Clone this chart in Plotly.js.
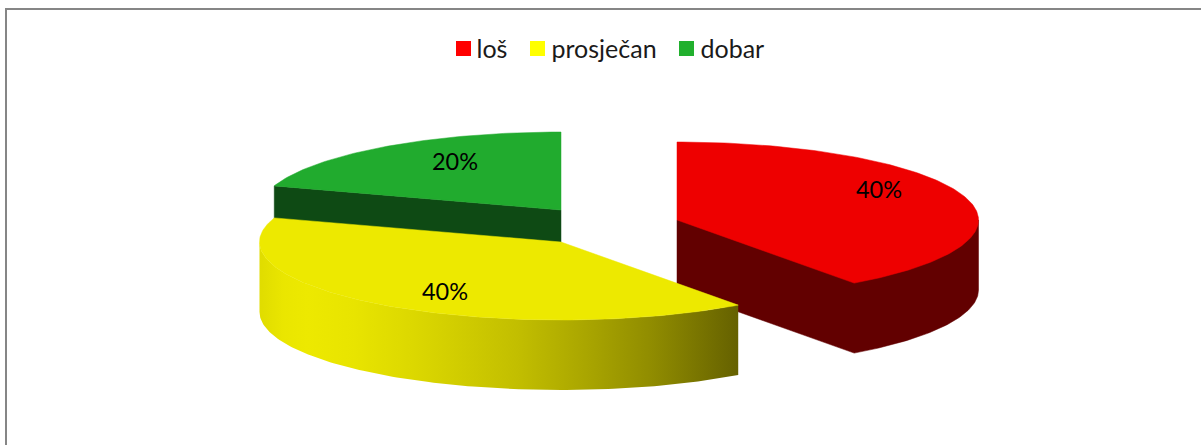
<!DOCTYPE html>
<html><head><meta charset="utf-8">
<script src="https://cdn.plot.ly/plotly-3.0.1.min.js"></script>
<style>html,body{margin:0;padding:0;background:#fff;overflow:hidden}</style>
</head><body><div id="chart" style="width:1201px;height:445px"></div>
<script>
const categories = ['loš', 'prosječan', 'dobar'];
const shares = [40, 40, 20];
const topColors = ['#ee0000', '#ede900', '#21ab2e'];
const legendColors = ['#ff0000', '#ffff00', '#21b02e'];
const sideColors = ['#620000', null, '#0e4a14'];
const apexX = [677, 561, 561];
const apexY = [220, 242, 210];
const labelX = [879, 445, 455];
const labelY = [192, 294, 164];
const legendX = [463.5, 537.5, 686.5];
const legendTextX = [476.5, 551.5, 700.5];
const legendY = 48.5;
const legendTextY = 52;
const rx = 301.5, ry = 78, depth = 70;

const rad = t => t * Math.PI / 180;
function rim(cx, cy, a0, a1) {
  const xs = [], ys = [], n = Math.max(2, Math.ceil(Math.abs(a1 - a0)));
  for (let i = 0; i <= n; i++) {
    const a = rad(a0 + (a1 - a0) * i / n);
    xs.push(cx + rx * Math.sin(a));
    ys.push(cy - ry * Math.cos(a));
  }
  return [xs, ys];
}
const poly = (x, y, color, extra) => Object.assign({
  type: 'scatter', mode: 'lines', x, y, fill: 'toself', fillcolor: color,
  line: {width: 0.5, color}, hoverinfo: 'skip', showlegend: false
}, extra || {});
// wall between two rim angles, extruded downwards
function wall(cx, cy, a0, a1) {
  const [wx, wy] = rim(cx, cy, a0, a1);
  return [wx.concat(wx.slice().reverse()).concat([wx[0]]),
          wy.concat(wy.map(v => v + depth).reverse()).concat([wy[0]])];
}

const traces = [];
let start = 0;
const spans = shares.map(v => { const s = [start, start + v * 3.6]; start = s[1]; return s; });
// back to front: dobar, loš, prosječan
[2, 0, 1].forEach(i => {
  const [a0, a1] = spans[i], cx = apexX[i], cy = apexY[i];
  const [rxs, rys] = rim(cx, cy, a0, a1);
  if (i === 2) {
    const sx = rxs[0], sy = rys[0];
    traces.push(poly([sx, cx, cx, sx, sx], [sy, cy, cy + depth, sy + depth, sy], sideColors[i]));
  }
  if (i === 0) {
    // silhouette of the cut face and outer wall as one shape
    const [bx, by] = rim(cx, cy + depth, a0 + 90, a1);
    traces.push(poly([cx, bx[0]].concat(bx).concat([cx, cx]),
                     [cy, by[0] - depth].concat(by).concat([cy + depth, cy]), sideColors[i]));
  }
  if (i === 1) {
    const [wx, wy] = wall(cx, cy, a0, 270);
    traces.push(poly(wx, wy, topColors[i], {
      line: {width: 0},
      fillgradient: {type: 'horizontal', colorscale: [
        [0, '#e0dc00'], [0.05, '#eae600'], [0.1, '#ede900'], [0.2, '#e8e400'],
        [0.33, '#dbd700'], [0.54, '#c2be00'], [0.68, '#aaa600'], [0.82, '#908c00'], [1, '#656100']
      ]}
    }));
  }
  traces.push(poly([cx].concat(rxs).concat([cx]), [cy].concat(rys).concat([cy]), topColors[i]));
});

categories.forEach((c, i) => traces.push({
  type: 'scatter', mode: 'markers', x: [legendX[i]], y: [legendY], name: c,
  marker: {symbol: 'square', size: 15, color: legendColors[i]},
  hoverinfo: 'skip', showlegend: false
}));
traces.push({
  type: 'scatter', mode: 'text', x: legendTextX, y: categories.map(() => legendTextY), text: categories,
  textposition: 'middle right',
  textfont: {family: 'Lato, sans-serif', size: 25, color: '#1a1a1a'},
  hoverinfo: 'skip', showlegend: false
});
traces.push({
  type: 'scatter', mode: 'text', x: labelX, y: labelY,
  text: shares.map(v => v + '%'), textposition: 'middle center',
  textfont: {family: 'Lato, sans-serif', size: 23.5, color: '#000'},
  hoverinfo: 'skip', showlegend: false
});

const layout = {
  width: 1201, height: 445, margin: {l: 0, r: 0, t: 0, b: 0},
  paper_bgcolor: '#fff', plot_bgcolor: '#fff',
  xaxis: {range: [0, 1201], visible: false, fixedrange: true},
  yaxis: {range: [445, 0], visible: false, fixedrange: true},
  showlegend: false,
  shapes: [{type: 'rect', xref: 'paper', yref: 'paper', x0: 6 / 1201, x1: 1.05,
    y0: -0.05, y1: 1 - 9 / 445, line: {color: '#868686', width: 2}}]
};
Plotly.newPlot('chart', traces, layout, {staticPlot: true, displayModeBar: false});
</script></body></html>
